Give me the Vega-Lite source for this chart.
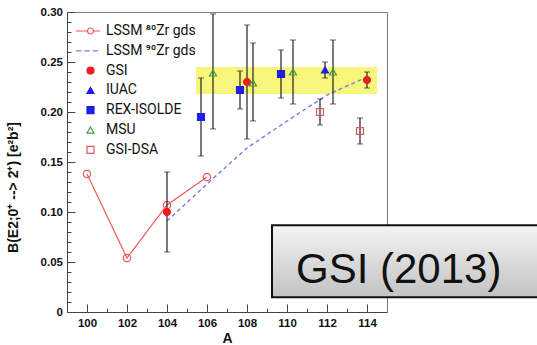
{
  "$schema": "https://vega.github.io/schema/vega-lite/v6.json",
  "autosize": {"type": "none"},
  "padding": {"left": 67, "top": 12, "right": 150, "bottom": 33},
  "width": 320,
  "height": 300,
  "background": "white",
  "config": {
    "view": {"stroke": "#7a7a7a", "strokeWidth": 1},
    "axis": {
      "labelFont": "Liberation Sans",
      "labelFontWeight": "bold",
      "labelFontSize": 11.5,
      "labelColor": "#111",
      "titleFont": "Liberation Sans",
      "titleFontWeight": "bold",
      "titleColor": "#111",
      "domainColor": "#444",
      "grid": false,
      "labelOverlap": false,
      "labelFlush": false
    }
  },
  "resolve": {"axis": {"x": "independent", "y": "independent"}},
  "datasets": {
    "band": [{"A": 105.45, "A2": 114.5, "B": 0.218, "B2": 0.245}],
    "lssm80": [
      {"A": 100, "B": 0.138},
      {"A": 102, "B": 0.054},
      {"A": 104, "B": 0.107},
      {"A": 106, "B": 0.135}
    ],
    "lssm90": [
      {"A": 104, "B": 0.091},
      {"A": 106, "B": 0.128},
      {"A": 108, "B": 0.164},
      {"A": 110, "B": 0.191},
      {"A": 112, "B": 0.217},
      {"A": 114, "B": 0.235}
    ],
    "exp": [
      {"series": "GSI", "A": 104, "B": 0.100, "lo": 0.060, "hi": 0.140},
      {"series": "GSI", "A": 108, "B": 0.230, "lo": 0.173, "hi": 0.287},
      {"series": "GSI", "A": 114, "B": 0.232, "lo": 0.224, "hi": 0.240},
      {"series": "REX-ISOLDE", "A": 105.7, "B": 0.195, "lo": 0.156, "hi": 0.234},
      {"series": "REX-ISOLDE", "A": 107.65, "B": 0.222, "lo": 0.203, "hi": 0.241},
      {"series": "REX-ISOLDE", "A": 109.7, "B": 0.238, "lo": 0.214, "hi": 0.262},
      {"series": "MSU", "A": 106.3, "B": 0.239, "lo": 0.183, "hi": 0.298},
      {"series": "MSU", "A": 108.3, "B": 0.229, "lo": 0.191, "hi": 0.269},
      {"series": "MSU", "A": 110.3, "B": 0.240, "lo": 0.208, "hi": 0.272},
      {"series": "MSU", "A": 112.3, "B": 0.240, "lo": 0.208, "hi": 0.272},
      {"series": "IUAC", "A": 111.9, "B": 0.242, "lo": 0.234, "hi": 0.250},
      {"series": "GSI-DSA", "A": 111.65, "B": 0.200, "lo": 0.187, "hi": 0.213},
      {"series": "GSI-DSA", "A": 113.65, "B": 0.181, "lo": 0.168, "hi": 0.194}
    ],
    "box": [{"A": 109.25, "A2": 122.6, "B": 0.0147, "B2": 0.0867}],
    "note": [{"A": 110.45, "B": 0.0287, "label": "GSI (2013)"}]
  },
  "layer": [
    {
      "data": {"name": "band"},
      "mark": {"type": "rect", "color": "#f6f67a", "opacity": 1},
      "encoding": {
        "x": {
          "field": "A", "type": "quantitative",
          "scale": {"domain": [99, 115], "nice": false, "zero": false},
          "axis": {
            "orient": "bottom",
            "title": "A",
            "titleFontSize": 14,
            "titlePadding": 3,
            "values": [100, 102, 104, 106, 108, 110, 112, 114],
            "ticks": false,
            "labelPadding": 5
          }
        },
        "x2": {"field": "A2"},
        "y": {
          "field": "B", "type": "quantitative",
          "scale": {"domain": [0, 0.3], "nice": false, "zero": false},
          "axis": {
            "orient": "left",
            "title": "B(E2;0⁺ --> 2⁺) [e²b²]",
            "titleFontSize": 14,
            "titlePadding": 20,
            "titleY": 175,
            "values": [0, 0.05, 0.1, 0.15, 0.2, 0.25, 0.3],
            "ticks": false,
            "labelPadding": 4.5,
            "labelExpr": "datum.value === 0 ? '0' : format(datum.value, '.2f')"
          }
        },
        "y2": {"field": "B2"}
      }
    },
    {
      "data": {"name": "band"},
      "mark": {"type": "rect", "opacity": 0},
      "encoding": {
        "x": {
          "field": "A", "type": "quantitative",
          "axis": {
            "orient": "top",
            "offset": -300,
            "title": null,
            "values": [100, 102, 104, 106, 108, 110, 112, 114],
            "ticks": true,
            "tickSize": 8,
            "tickColor": "#444",
            "tickWidth": 1,
            "labels": false,
            "domain": false
          }
        },
        "x2": {"field": "A2"},
        "y": {
          "field": "B", "type": "quantitative",
          "axis": {
            "orient": "right",
            "offset": -320,
            "title": null,
            "values": [0.05, 0.1, 0.15, 0.2, 0.25, 0.3],
            "ticks": true,
            "tickSize": 8,
            "tickColor": "#444",
            "tickWidth": 1,
            "labels": false,
            "domain": false
          }
        },
        "y2": {"field": "B2"}
      }
    },
    {
      "data": {"name": "band"},
      "mark": {"type": "rect", "opacity": 0},
      "encoding": {
        "x": {
          "field": "A", "type": "quantitative",
          "axis": {
            "orient": "top",
            "offset": -300,
            "title": null,
            "values": [101, 103, 105, 107, 109, 111, 113],
            "ticks": true,
            "tickSize": 4,
            "tickColor": "#444",
            "tickWidth": 1,
            "labels": false,
            "domain": false
          }
        },
        "x2": {"field": "A2"},
        "y": {
          "field": "B", "type": "quantitative",
          "axis": {
            "orient": "right",
            "offset": -320,
            "title": null,
            "values": [0.01, 0.02, 0.03, 0.04, 0.06, 0.07, 0.08, 0.09, 0.11, 0.12, 0.13, 0.14, 0.16, 0.17, 0.18, 0.19, 0.21, 0.22, 0.23, 0.24, 0.26, 0.27, 0.28, 0.29],
            "ticks": true,
            "tickSize": 4,
            "tickColor": "#444",
            "tickWidth": 1,
            "labels": false,
            "domain": false
          }
        },
        "y2": {"field": "B2"}
      }
    },
    {
      "data": {"name": "lssm90"},
      "mark": {"type": "line", "color": "#7c7cf0", "strokeWidth": 1.4, "strokeDash": [4, 3]},
      "encoding": {
        "x": {"field": "A", "type": "quantitative", "axis": null},
        "y": {"field": "B", "type": "quantitative", "axis": null}
      }
    },
    {
      "data": {"name": "lssm80"},
      "mark": {"type": "line", "color": "#ee5a5a", "strokeWidth": 1.2,
        "point": {"shape": "circle", "filled": false, "fill": "transparent", "stroke": "#ee5a5a", "size": 55, "strokeWidth": 1.2, "opacity": 1}},
      "encoding": {
        "x": {"field": "A", "type": "quantitative", "axis": null},
        "y": {"field": "B", "type": "quantitative", "axis": null}
      }
    },
    {
      "data": {"name": "exp"},
      "mark": {"type": "errorbar", "ticks": {"size": 6, "color": "#222"}, "rule": {"color": "#222", "strokeWidth": 1.2}},
      "encoding": {
        "x": {"field": "A", "type": "quantitative", "axis": null},
        "y": {"field": "lo", "type": "quantitative", "axis": null},
        "y2": {"field": "hi"}
      }
    },
    {
      "data": {"name": "exp"},
      "mark": {"type": "point", "size": 48, "strokeWidth": 1.2, "opacity": 1},
      "encoding": {
        "x": {"field": "A", "type": "quantitative", "axis": null},
        "y": {"field": "B", "type": "quantitative", "axis": null},
        "shape": {
          "field": "series", "type": "nominal",
          "scale": {
            "domain": ["LSSM ⁸⁰Zr gds", "LSSM ⁹⁰Zr gds", "GSI", "IUAC", "REX-ISOLDE", "MSU", "GSI-DSA"],
            "range": [
              "M-4.17,0H-0.86M0.86,0H2.69M-0.86,0A0.86,0.86 0 1,0 0.86,0A0.86,0.86 0 1,0 -0.86,0",
              "M-4.17,0H-2.6M-1.75,0H-0.2M0.65,0H2.2",
              "circle", "triangle-up", "square", "triangle-up", "square"
            ]
          },
          "legend": {
            "title": null,
            "orient": "none",
            "legendX": 16.5,
            "legendY": 12,
            "symbolSize": 49,
            "symbolStrokeWidth": 1.2,
            "labelOffset": 8.5,
            "labelFont": "Roboto",
            "labelFontSize": 14,
            "labelColor": "#111",
            "rowPadding": 5.8,
            "padding": 0
          }
        },
        "fill": {
          "field": "series", "type": "nominal",
          "scale": {
            "domain": ["LSSM ⁸⁰Zr gds", "LSSM ⁹⁰Zr gds", "GSI", "IUAC", "REX-ISOLDE", "MSU", "GSI-DSA"],
            "range": ["transparent", "transparent", "#ee1c1c", "#1e1ee6", "#1e1ee6", "transparent", "transparent"]
          }
        },
        "stroke": {
          "field": "series", "type": "nominal",
          "scale": {
            "domain": ["LSSM ⁸⁰Zr gds", "LSSM ⁹⁰Zr gds", "GSI", "IUAC", "REX-ISOLDE", "MSU", "GSI-DSA"],
            "range": ["#ee5a5a", "#7c7cf0", "#ee1c1c", "#1e1ee6", "#1e1ee6", "#3f9a3f", "#e05a5a"]
          }
        }
      }
    },
    {
      "data": {"name": "box"},
      "mark": {
        "type": "rect",
        "stroke": "#111",
        "strokeWidth": 2,
        "fill": {"gradient": "linear", "x1": 0, "y1": 0, "x2": 0, "y2": 1,
          "stops": [{"offset": 0, "color": "#f4f4f4"}, {"offset": 1, "color": "#c2c2c2"}]}
      },
      "encoding": {
        "x": {"field": "A", "type": "quantitative", "axis": null},
        "x2": {"field": "A2"},
        "y": {"field": "B", "type": "quantitative", "axis": null},
        "y2": {"field": "B2"}
      }
    },
    {
      "data": {"name": "note"},
      "mark": {"type": "text", "align": "left", "baseline": "alphabetic", "font": "Liberation Sans", "fontSize": 42, "color": "#111"},
      "encoding": {
        "x": {"field": "A", "type": "quantitative", "axis": null},
        "y": {"field": "B", "type": "quantitative", "axis": null},
        "text": {"field": "label"}
      }
    }
  ]
}
